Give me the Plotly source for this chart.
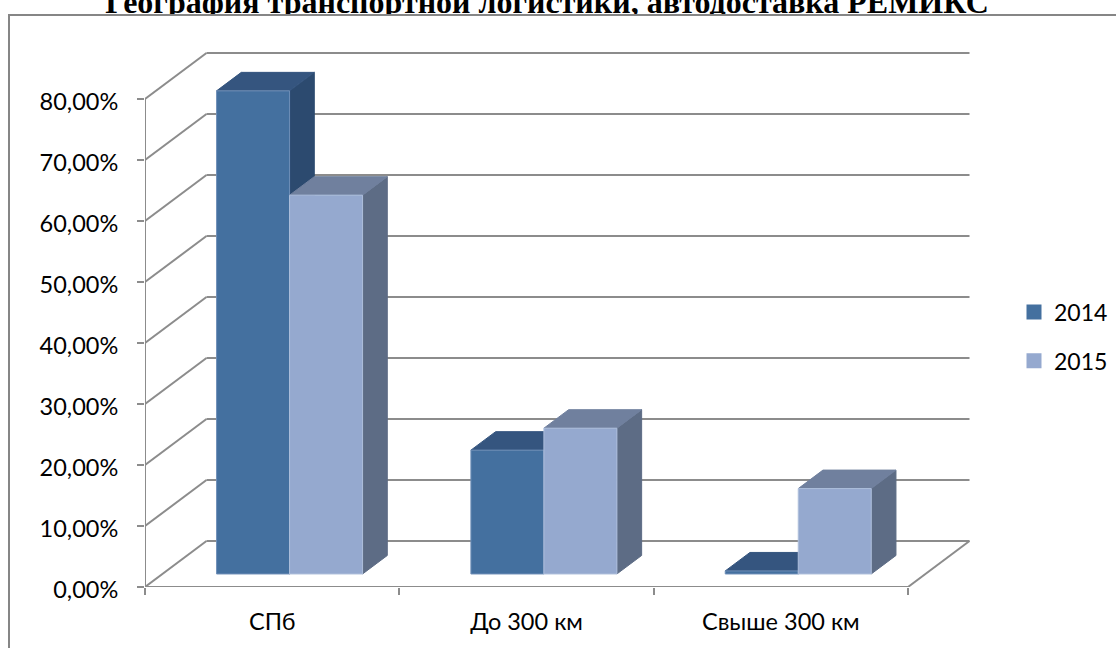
import plotly.graph_objects as go

# Chart data
categories = ["СПб", "До 300 км", "Свыше 300 км"]
series_names = ["2014", "2015"]
values_2014 = [79.2, 20.3, 0.5]
values_2015 = [62.1, 23.9, 14.0]
y_ticks = [0, 10, 20, 30, 40, 50, 60, 70, 80]
y_tick_labels = ["0,00%", "10,00%", "20,00%", "30,00%", "40,00%", "50,00%", "60,00%", "70,00%", "80,00%"]
title_text = "География транспортной логистики, автодоставка РЕМИКС"

# Page and plot geometry
W, H = 1116, 648
PX_L, PX_R, PX_T, PX_B = 145, 985, 40, 587
PX_PER_CAT = (908 - 145) / 3
PX_PER_PCT = (587 - 99) / 80

# Oblique depth vector of the floor, in axis units
DEPTH_X = 61.5 / PX_PER_CAT
DEPTH_Y = 46 / PX_PER_PCT
BAR_D0, BAR_D1 = 0.283, 0.685
BAR_W = 73 / PX_PER_CAT
GROUP_GAP = (1 - 2 * BAR_W) / 2

GRID = "#8c8c8c"
FONT = "Lato"
COLORS = {
    "2014": dict(front="#44709f", top="#35557f", side="#2c4a6f", edge="#6f8fb8"),
    "2015": dict(front="#95a9cf", top="#70809e", side="#5d6c85", edge="#aebfdc"),
}


def project(x, y, d):
    """Oblique projection of (category position, percent, depth) onto the axes."""
    return x + d * DEPTH_X, y + d * DEPTH_Y


def polyline(points):
    xs, ys = [], []
    for p in points:
        px, py = project(*p)
        xs.append(px)
        ys.append(py)
    return xs, ys


def segments(pairs):
    xs, ys = [], []
    for a, b in pairs:
        sx, sy = polyline([a, b])
        xs += sx + [None]
        ys += sy + [None]
    return xs, ys


fig = go.Figure()

# Back wall, side wall and floor lines
n = len(categories)
frame = []
frame += [((0, t, 1), (n, t, 1)) for t in y_ticks]
frame += [((0, t, 0), (0, t, 1)) for t in y_ticks]
frame += [((0, 0, 0), (0, y_ticks[-1], 0))]
frame += [((0, 0, 0), (n, 0, 0)), ((n, 0, 0), (n, 0, 1))]
fx, fy = segments(frame)
fig.add_trace(go.Scatter(x=fx, y=fy, mode="lines", line=dict(color=GRID, width=2),
                         hoverinfo="skip", showlegend=False))


def add_face(points, fill, edge):
    xs, ys = polyline(points + points[:1])
    fig.add_trace(go.Scatter(x=xs, y=ys, mode="lines", fill="toself", fillcolor=fill,
                             line=dict(color=edge, width=1), hoverinfo="skip", showlegend=False))


def add_box(x0, x1, v, c):
    add_face([(x1, 0, BAR_D0), (x1, 0, BAR_D1), (x1, v, BAR_D1), (x1, v, BAR_D0)], c["side"], c["side"])
    add_face([(x0, v, BAR_D0), (x1, v, BAR_D0), (x1, v, BAR_D1), (x0, v, BAR_D1)], c["top"], c["top"])
    add_face([(x0, 0, BAR_D0), (x1, 0, BAR_D0), (x1, v, BAR_D0), (x0, v, BAR_D0)], c["front"], c["edge"])


for i in range(n):
    for j, (name, vals) in enumerate(zip(series_names, [values_2014, values_2015])):
        x0 = i + GROUP_GAP + j * BAR_W
        add_box(x0, x0 + BAR_W, vals[i], COLORS[name])

# Legend entries
for name in series_names:
    fig.add_trace(go.Scatter(x=[None], y=[None], mode="markers", name=name,
                             legendgroup=name,
                             marker=dict(symbol="square", size=15, color=COLORS[name]["front"])))

# The heading sits in its own thin strip above the frame, which trims its descenders
fig.add_trace(go.Scatter(x=[547 / W], y=[0], xaxis="x2", yaxis="y2", mode="text",
                         text=["<b>" + title_text + "</b>"], textposition="middle center",
                         textfont=dict(family="Liberation Serif", size=32, color="#000000"),
                         cliponaxis=True, hoverinfo="skip", showlegend=False))

fig.update_layout(
    width=W, height=H, autosize=False,
    margin=dict(l=0, r=0, t=0, b=0, autoexpand=False),
    paper_bgcolor="white", plot_bgcolor="white",
    font=dict(family=FONT, size=23.5, color="#000000"),
    legend=dict(x=1014 / W, xanchor="left", y=1 - 336.5 / H, yanchor="middle",
                tracegroupgap=16, bgcolor="rgba(0,0,0,0)", font=dict(size=23, family=FONT)),
    xaxis=dict(domain=[PX_L / W, PX_R / W], range=[0, (PX_R - PX_L) / PX_PER_CAT],
               anchor="y", showgrid=False, zeroline=False, showline=False,
               tickmode="array", tickvals=[i + 0.5 for i in range(n)], ticktext=categories,
               ticks="", ticklabelstandoff=18,
               minor=dict(tickmode="array", tickvals=list(range(n + 1)), ticks="outside",
                          ticklen=7, tickwidth=1.5, tickcolor=GRID, showgrid=False)),
    yaxis=dict(domain=[1 - PX_B / H, 1 - PX_T / H], range=[0, (PX_B - PX_T) / PX_PER_PCT],
               anchor="x", showgrid=False, zeroline=False, showline=False,
               tickmode="array", tickvals=y_ticks, ticktext=y_tick_labels,
               ticks="outside", ticklen=7, tickwidth=1.5, tickcolor=GRID,
               ticklabelstandoff=14, ticklabelshift=3),
    xaxis2=dict(domain=[0, 1], range=[0, 1], visible=False, anchor="y2"),
    yaxis2=dict(domain=[1 - 14 / H, 1], range=[-9, 5], visible=False, anchor="x2"),
    shapes=[dict(type="rect", xref="paper", yref="paper",
                 x0=9 / W, x1=1.1, y0=-0.1, y1=1 - 15 / H,
                 line=dict(color="#868686", width=2), fillcolor="rgba(0,0,0,0)", layer="below")],
)

fig.write_html("out.html")
